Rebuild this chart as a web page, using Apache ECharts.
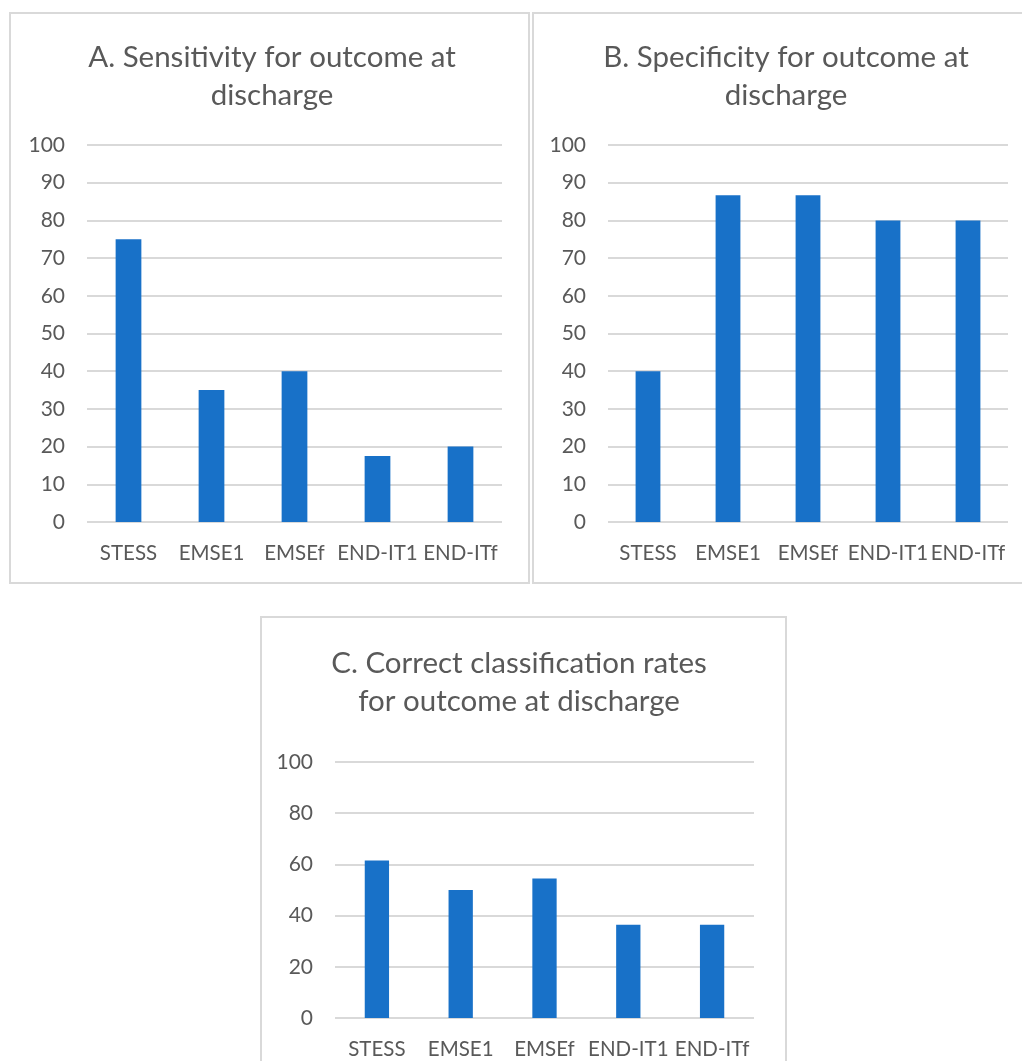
<!DOCTYPE html>
<html>
<head>
<meta charset="utf-8">
<title>Outcome at discharge</title>
<script src="https://cdn.jsdelivr.net/npm/echarts@6/dist/echarts.min.js"></script>
<style>
  html, body { margin: 0; padding: 0; background: #ffffff; }
  #chart { width: 1022px; height: 1061px; }
</style>
</head>
<body>
<div id="chart"></div>
<script>
// Scores (%) for each scale, outcome at discharge
const categories = ['STESS', 'EMSE1', 'EMSEf', 'END-IT1', 'END-ITf'];
const sensitivity = [75, 35, 40, 17.5, 20];
const specificity = [40, 86.7, 86.7, 80, 80];
const correctRates = [61.5, 50, 54.5, 36.4, 36.4];

const titleA = 'A. Sensitivity for outcome at\ndischarge';
const titleB = 'B. Specificity for outcome at\ndischarge';
const titleC = 'C. Correct classification rates\nfor outcome at discharge';

const yTicksAB = [0, 10, 20, 30, 40, 50, 60, 70, 80, 90, 100];
const yTicksC = [0, 20, 40, 60, 80, 100];

const FONT = 'Lato, "Open Sans", sans-serif';
const TEXT = '#595959';
const GRID = '#d9d9d9';
const BAR = '#1871c8';

const chart = echarts.init(document.getElementById('chart'), null, { renderer: 'canvas' });

function titleOpt(text, cx, top) {
  return {
    text: text,
    left: cx,
    top: top,
    textAlign: 'center',
    textStyle: {
      fontFamily: FONT, fontSize: 29.5, fontWeight: 'normal',
      color: TEXT, lineHeight: 38, align: 'center'
    }
  };
}

function xAxisOpt(gridIndex) {
  return {
    type: 'category',
    gridIndex: gridIndex,
    data: categories,
    axisLine: { show: false },
    axisTick: { show: false },
    axisLabel: { interval: 0, margin: 21, fontFamily: FONT, fontSize: 20.5, color: TEXT }
  };
}

function yAxisOpt(gridIndex, ticks) {
  const step = ticks[1] - ticks[0];
  return {
    type: 'value',
    gridIndex: gridIndex,
    min: ticks[0],
    max: ticks[ticks.length - 1],
    interval: step,
    axisLine: { show: false },
    axisTick: { show: false },
    axisLabel: { margin: 22, fontFamily: FONT, fontSize: 21, color: TEXT },
    splitLine: { show: true, lineStyle: { color: GRID, width: 2 } }
  };
}

function barSeries(index, data, width) {
  return {
    type: 'bar',
    xAxisIndex: index,
    yAxisIndex: index,
    data: data,
    barWidth: width,
    itemStyle: { color: BAR },
    silent: true
  };
}

// Panel frames
const frames = [
  { x: 10, y: 13, w: 519, h: 570 },
  { x: 533, y: 13, w: 510, h: 570 },
  { x: 261, y: 617, w: 525, h: 470 }
];

chart.setOption({
  animation: false,
  backgroundColor: '#ffffff',
  graphic: frames.map(f => ({
    type: 'rect',
    shape: { x: f.x, y: f.y, width: f.w, height: f.h },
    style: { fill: 'none', stroke: GRID, lineWidth: 2 },
    z: -1, silent: true
  })),
  title: [
    titleOpt(titleA, 267, 33),
    titleOpt(titleB, 781, 33),
    titleOpt(titleC, 514, 639)
  ],
  grid: [
    { left: 87, top: 145, width: 415, height: 377 },
    { left: 608, top: 145, width: 400, height: 377 },
    { left: 335, top: 762, width: 419, height: 256 }
  ],
  xAxis: [xAxisOpt(0), xAxisOpt(1), xAxisOpt(2)],
  yAxis: [yAxisOpt(0, yTicksAB), yAxisOpt(1, yTicksAB), yAxisOpt(2, yTicksC)],
  series: [
    barSeries(0, sensitivity, '31%'),
    barSeries(1, specificity, '31%'),
    barSeries(2, correctRates, '29%')
  ]
});
</script>
</body>
</html>
